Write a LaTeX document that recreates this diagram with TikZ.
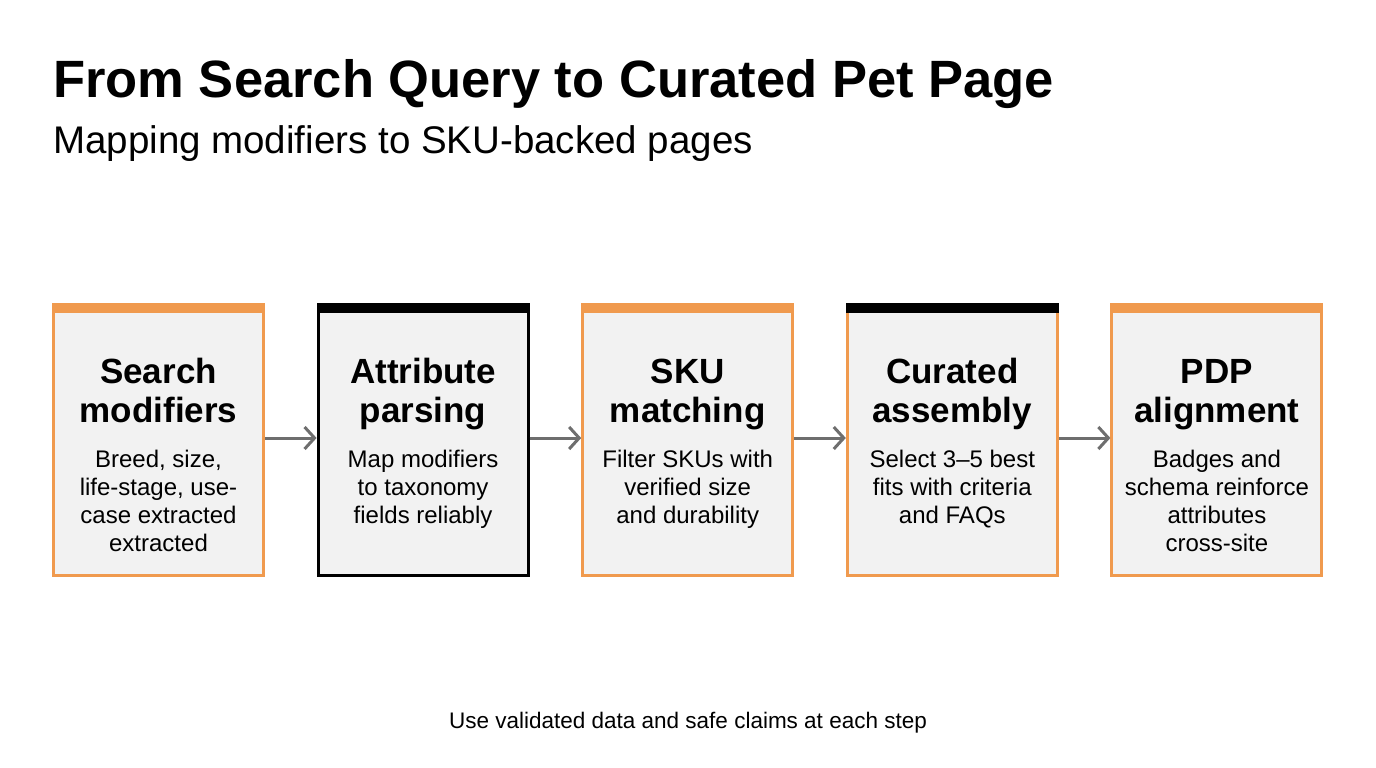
\documentclass[tikz,border=0pt]{standalone}
\usepackage{fontspec}
\setmainfont{Liberation Sans}
\usetikzlibrary{calc}
\usetikzlibrary{arrows.meta}

\definecolor{orng}{HTML}{F09A4E}
\definecolor{boxfill}{HTML}{F2F2F2}
\definecolor{arrowgray}{HTML}{6E6E6E}

\tikzset{
  stepbox/.style={draw=#1, fill=boxfill, line width=3pt, minimum width=210pt, minimum height=271pt, inner sep=0pt},
  steptitle/.style={font=\fontsize{35}{39}\selectfont\bfseries, align=center, inner sep=0pt, anchor=base},
  stepbody/.style={font=\fontsize{24}{28}\selectfont, align=center, inner sep=0pt, anchor=base},
  flow/.style={draw=arrowgray, line width=3pt, -{Straight Barb[length=10pt,width=22pt]}}
}

\begin{document}
\begin{tikzpicture}[x=1pt,y=-1pt]
\useasboundingbox[fill=white] (0,0) rectangle (1376,768);

\node[font=\fontsize{52.5}{56}\selectfont\bfseries, anchor=base west, inner sep=0pt] (title) at (53,97) {From Search Query to Curated Pet Page};
\node[font=\fontsize{38.5}{42}\selectfont, anchor=base west, inner sep=0pt] (subtitle) at (53,153) {Mapping modifiers to SKU-backed pages};

% base of a multi-line node = its last line
\foreach \i/\edge/\bar/\n/\ttl/\txt in {
  1/orng/orng/4/{Search\\modifiers}/{Breed, size,\\life-stage, use-\\case extracted\\extracted},
  2/black/black/3/{Attribute\\parsing}/{Map modifiers\\to taxonomy\\fields reliably},
  3/orng/orng/3/{SKU\\matching}/{Filter SKUs with\\verified size\\and durability},
  4/orng/black/3/{Curated\\assembly}/{Select 3–5 best\\fits with criteria\\and FAQs},
  5/orng/orng/4/{PDP\\alignment}/{Badges and\\schema reinforce\\attributes\\cross-site}}
{
  \coordinate (c\i) at ({158.5+264.6*(\i-1)},440);
  \node[stepbox=\edge] (s\i) at (c\i) {};
  \fill[\bar] (s\i.north west) rectangle ($(s\i.north east)+(0,10)$);
  \node[steptitle] (t\i) at ($(c\i)+(0,-18)$) {\ttl};
  \node[stepbody] (b\i) at ($(c\i)+(0,{27+28*(\n-1)})$) {\txt};
}

\foreach \a/\b in {1/2,2/3,3/4,4/5}
  \draw[flow] ($(s\a.east)+(0,-2)$) -- ($(s\b.west)+(0,-2)$);

\node[font=\fontsize{22.5}{26}\selectfont, anchor=base, inner sep=0pt] (note) at (688,728) {Use validated data and safe claims at each step};

\end{tikzpicture}
\end{document}
